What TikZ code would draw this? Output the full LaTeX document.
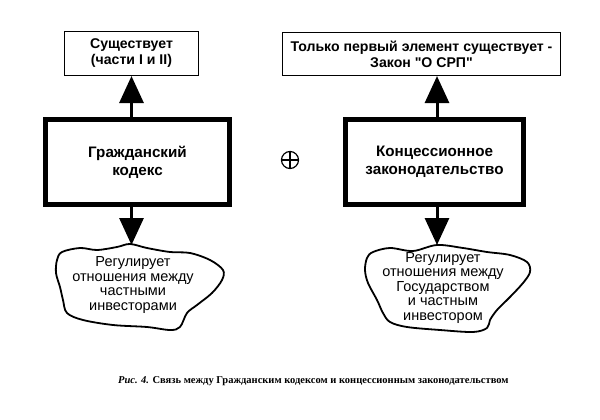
\documentclass[tikz,border=0pt]{standalone}
\usepackage{fontspec}
\setmainfont{Liberation Sans}[Ligatures=TeXOff]
\newfontfamily\capfont{Liberation Serif}
\usetikzlibrary{arrows.meta}
\begin{document}
\begin{tikzpicture}[x=1pt,y=-1pt,
  topbox/.style={draw, line width=1.1pt, inner sep=0pt, align=center,
    font=\bfseries\fontsize{14.1}{16}\selectfont},
  bigbox/.style={draw, line width=5pt, inner sep=0pt, align=center,
    minimum height=85pt, font=\bfseries\fontsize{15.2}{18}\selectfont},
  link/.style={line width=3pt, -{Triangle[width=24pt,length=27pt]}},
  cloudline/.style={line width=1.8pt, line join=round},
  cloudtext/.style={align=center, inner sep=0pt, font=\fontsize{14.5}{14.5}\selectfont},
  plus/.style={draw, circle, line width=1.2pt, minimum size=17pt, inner sep=0pt},
  caption/.style={inner sep=0pt, font=\capfont\bfseries\fontsize{10.5}{12}\selectfont}
]
\useasboundingbox (0,0) rectangle (600,420);

% top boxes
\node[topbox, minimum width=134pt, minimum height=44pt] (ltop) at (131.5,53.5)
  {Существует\\(части I и II)};
\node[topbox, minimum width=278pt, minimum height=43pt] (rtop) at (421.5,54)
  {Только первый элемент существует -\\Закон "О СРП"};

% big boxes
\node[bigbox, minimum width=184pt] (lbig) at (137.5,162) {Гражданский\\кодекс};
\node[bigbox, minimum width=178pt] (rbig) at (434.5,162) {Концессионное\\законодательство};

% plus sign
\node[plus] (oplus) at (290,160) {};
\draw[line width=1.2pt] (oplus.north) -- (oplus.south) (oplus.west) -- (oplus.east);

% clouds
\draw[cloudline] plot[smooth cycle, tension=0.55] coordinates {
  (62,252) (80,248) (97,250) (117,247) (130,244) (147,248) (170,252) (190,253)
  (210,260) (223,270) (222,280) (212,293) (197,305) (187,313) (180,327)
  (170,330) (147,327) (113,325) (83,320) (67,313) (63,300) (60,287) (56,273) (57,260)};
\coordinate (lcloudtop) at (130,245);
\node[cloudtext] (lcloud) at (133,285)
  {Регулирует\\отношения между\\частными\\инвесторами};

\draw[cloudline] plot[smooth cycle, tension=0.55] coordinates {
  (373,252) (390,248) (413,251) (437,245) (463,248) (487,252) (510,255)
  (527,262) (530,272) (523,283) (510,297) (497,310) (490,320) (487,328)
  (473,332) (440,330) (407,327) (390,322) (383,313) (377,300) (368,283)
  (365,270) (367,258)};
\coordinate (rcloudtop) at (437,245);
\node[cloudtext] (rcloud) at (443,288)
  {Регулирует\\отношения между\\Государством\\и частным\\инвестором};

% connectors
\draw[link] (ltop.south |- lbig.north) -- (ltop.south);
\draw[link] (rbig.north -| rcloudtop) -- (rtop.south -| rcloudtop);
\draw[link] (ltop.south |- lbig.south) -- (ltop.south |- lcloudtop);
\draw[link] (rbig.south -| rcloudtop) -- (rcloudtop);

% caption
\node[caption, anchor=west] (cap) at (118,381)
  {\itshape Рис. 4.\upshape{} Связь между Гражданским кодексом и концессионным законодательством};
\end{tikzpicture}
\end{document}
